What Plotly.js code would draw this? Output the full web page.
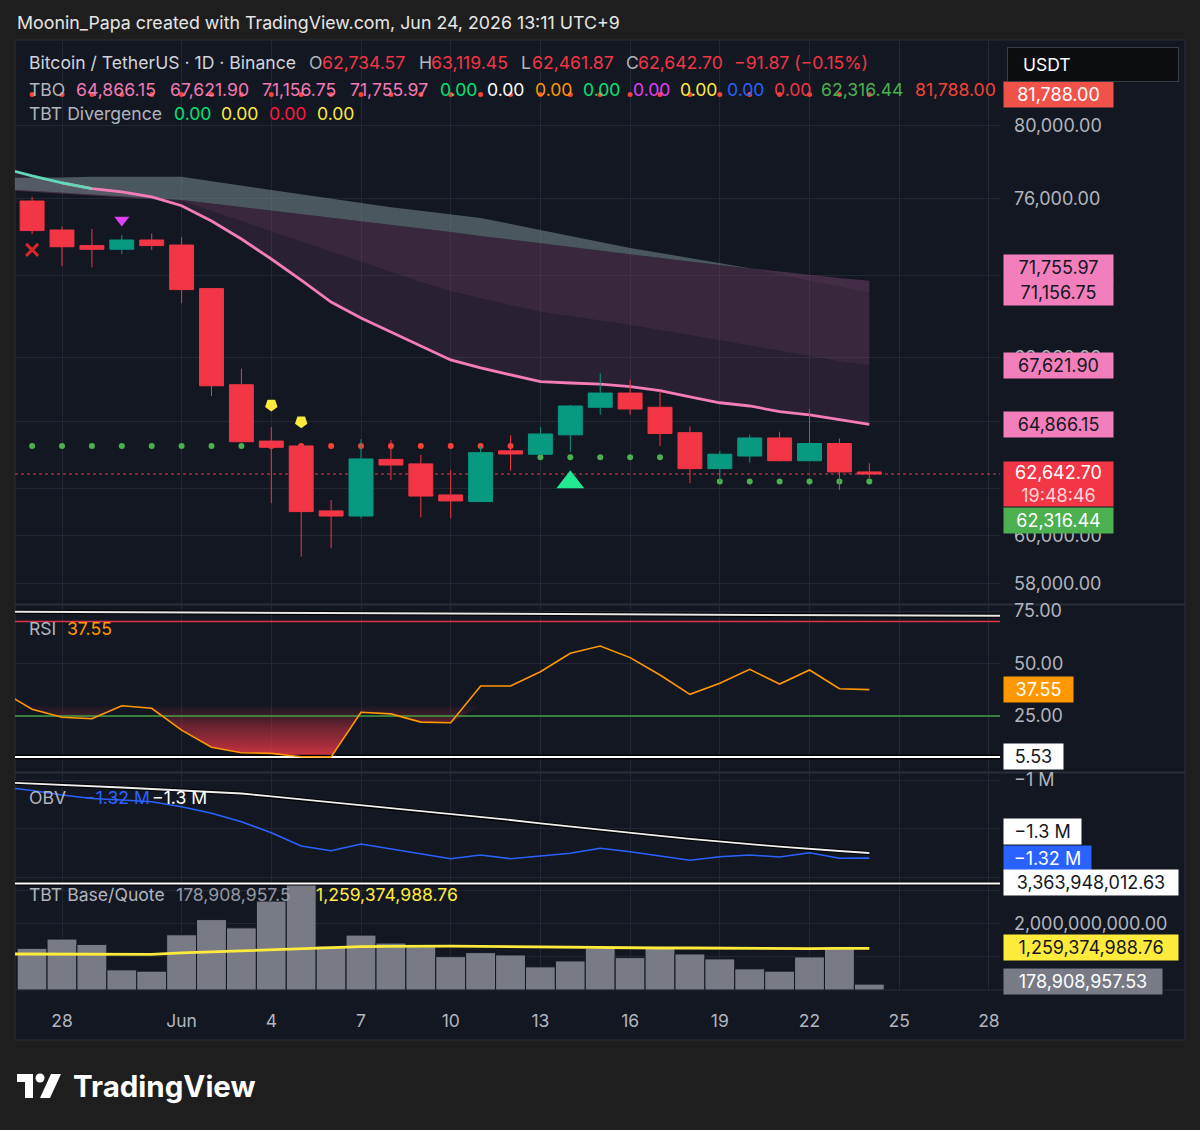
<!DOCTYPE html>
<html><head><meta charset="utf-8">
<script src="https://cdn.plot.ly/plotly-3.0.1.min.js"></script>
<style>html,body{margin:0;padding:0;background:#1e1e1e;}#chart{width:1200px;height:1130px;}</style>
</head><body><div id="chart"></div>
<script>
// ---------- DATA ----------
const dates = ['2026-05-27','2026-05-28','2026-05-29','2026-05-30','2026-05-31',
 '2026-06-01','2026-06-02','2026-06-03','2026-06-04','2026-06-05','2026-06-06','2026-06-07',
 '2026-06-08','2026-06-09','2026-06-10','2026-06-11','2026-06-12','2026-06-13','2026-06-14',
 '2026-06-15','2026-06-16','2026-06-17','2026-06-18','2026-06-19','2026-06-20','2026-06-21',
 '2026-06-22','2026-06-23','2026-06-24'];
const datesExt = ['2026-05-26'].concat(dates); // indicator series start one day earlier

const open  = [75890,74360,73550,73360,73840,73580,71360,66700,64110,63890,61040,60820,63290,63090,61730,61440,63670,63520,64390,65650,66310,65650,64490,62880,63440,64250,63230,64000,62734.57];
const high  = [76120,74540,74420,74090,74180,73980,71400,67460,64740,63990,61510,64190,64160,63490,62820,63890,64370,64740,65760,67240,66920,66410,64770,63670,64400,64530,65570,64220,63119.45];
const low   = [74150,72500,72440,73120,73320,70630,66170,64050,61370,59110,59460,60720,62380,60760,60720,61420,62790,63500,63630,65300,65300,63890,62240,62310,63140,63200,63200,61940,62461.87];
const close = [74330,73490,73360,73840,73550,71310,66650,64080,63830,61010,60820,63310,63040,61680,61470,63590,63530,64430,65710,66310,65570,64450,62880,63520,64250,63230,64000,62734.57,62642.70];

// TBO lines (May 26 .. Jun 24)
const tboFast     = [77670,77240,76860,76560,76380,76110,75640,74830,73890,72860,71790,70690,69900,69220,68540,67870,67490,67160,66840,66780,66730,66610,66420,66130,65860,65710,65450,65300,65070,64866.15];
const tboMid      = [76480,76380,76270,76160,76050,75970,75890,75360,74820,74290,73750,73250,72730,72200,71690,71230,70870,70540,70210,70000,69780,69560,69320,69070,68830,68570,68310,68060,67810,67621.90];
const tboSlow     = [76540,76430,76330,76240,76140,76040,75950,75760,75570,75390,75210,75030,74850,74660,74450,74250,74050,73860,73660,73460,73260,73070,72900,72730,72560,72380,72070,71770,71460,71156.75];
const tboSlowest  = [77130,77130,77160,77190,77190,77190,77190,76950,76710,76470,76240,76010,75780,75560,75370,75180,74990,74680,74360,74050,73740,73430,73170,72900,72640,72390,72210,72060,71900,71755.97];
const tboHigh = 81788.00;

// trailing stop dots (per candle)
const stopLevel = [63890,63890,63890,63890,63890,63890,63890,63890,
                   63890,63890,63890,63890,63890,63890,63890,63890,63890,
                   63380,63380,63380,63380,63380,null,
                   62316.44,62316.44,62316.44,62316.44,62316.44,62316.44];
const stopDir   = ['up','up','up','up','up','up','up','up',
                   'dn','dn','dn','dn','dn','dn','dn','dn','dn',
                   'up','up','up','up','up','up',
                   'up','up','up','up','up','up'];

// signal markers
const crossSig   = {date:['2026-05-27'], price:[73330]};
const sellSig    = {date:['2026-05-30'], price:[74890]};
const warnSig    = {date:['2026-06-04','2026-06-05'], price:[65760,64990]};
const buySig     = {date:['2026-06-14'], price:[62280]};

// RSI (May 26 .. Jun 24)
const rsi = [36.7,28.2,24.4,23.7,29.9,28.7,18.3,10.1,7.5,7.2,5.6,5.53,26.8,26.0,22.1,21.8,39.3,39.3,46.1,54.9,58.3,52.8,44.5,35.3,40.6,47.2,40.2,46.9,38.0,37.55];
const rsiUpper = 70, rsiLower = 25, rsiMin = 5.53, rsiMaxLine = [74.6, 72.7];

// OBV in millions (May 26 .. Jun 24)
const obvM   = [-1.0288,-1.0432,-1.0617,-1.0761,-1.0823,-1.0893,-1.1099,-1.1370,-1.1716,-1.2169,-1.2716,-1.2909,-1.2634,-1.2840,-1.3045,-1.3239,-1.3086,-1.3239,-1.3128,-1.3016,-1.2811,-1.2951,-1.3128,-1.3305,-1.3156,-1.3086,-1.3169,-1.2992,-1.3222,-1.3215];
const obvMaM = [-1.0091,-1.0140,-1.0193,-1.0247,-1.0309,-1.0370,-1.0432,-1.0486,-1.0556,-1.0675,-1.0794,-1.0914,-1.1033,-1.1152,-1.1272,-1.1391,-1.1514,-1.1646,-1.1786,-1.1922,-1.2058,-1.2181,-1.2300,-1.2420,-1.2539,-1.2638,-1.2741,-1.2840,-1.2922,-1.3004];

// Base/quote volume in billions (per candle) and its average (May 26 .. Jun 24)
const volumeB = [1.26,1.54,1.38,0.61,0.57,1.67,2.13,1.88,2.69,3.36,1.33,1.66,1.42,1.31,1.01,1.13,1.06,0.70,0.88,1.26,0.98,1.26,1.09,0.94,0.64,0.57,1.00,1.31,0.17890895753];
const volMaB  = [1.09,1.09,1.09,1.085,1.08,1.08,1.12,1.15,1.18,1.22,1.26,1.29,1.31,1.32,1.33,1.33,1.32,1.31,1.29,1.28,1.27,1.27,1.27,1.27,1.26,1.26,1.26,1.25,1.26,1.25937498876];
const volMaxLabel = 3363948012.63;

const tickDates = ['2026-05-28','2026-06-01','2026-06-04','2026-06-07','2026-06-10','2026-06-13','2026-06-16','2026-06-19','2026-06-22','2026-06-25','2026-06-28'];
const tickText  = ['28','Jun','4','7','10','13','16','19','22','25','28'];
const priceTicks = [58000,60000,62000,65000,68000,72000,76000,80000];
const priceTicksCovered = [62000,65000,72000]; // hidden behind the price labels

// ---------- HELPERS ----------
const FONT = 'Inter, "Noto Sans", sans-serif';
const X = px => (px - 15) / 985;
const Y = py => (990 - py) / 950;
const fmt = v => v.toLocaleString('en-US',{minimumFractionDigits:2,maximumFractionDigits:2});
const day = 864e5;
const t0 = Date.parse(dates[0] + 'T00:00:00Z');
const iso = ms => new Date(ms).toISOString().replace('T',' ').replace('Z','');
const xRange = [iso(t0 - 0.572*day), iso(t0 + 32.37*day)];
const last = dates.length - 1;
const lastE = datesExt.length - 1;

const RED = '#f23645', GREEN = '#089981', GRAY = '#b2b5be', PINK = '#f27fbb';
const GRID = '#232733';

const traces = [];
// TBO band fills
traces.push({type:'scatter', x:datesExt, y:tboSlow, mode:'lines', line:{width:0}, hoverinfo:'skip', xaxis:'x', yaxis:'y'});
traces.push({type:'scatter', x:datesExt, y:tboMid, mode:'lines', line:{width:0}, fill:'tonexty', fillcolor:'rgba(125,70,115,0.36)', hoverinfo:'skip'});
traces.push({type:'scatter', x:datesExt, y:tboFast, mode:'lines', line:{width:0}, fill:'tonexty', fillcolor:'rgba(125,70,115,0.22)', hoverinfo:'skip'});
const cross = 25;
traces.push({type:'scatter', x:datesExt.slice(0,cross+1), y:tboSlowest.slice(0,cross+1), mode:'lines', line:{width:0}, hoverinfo:'skip'});
traces.push({type:'scatter', x:datesExt.slice(0,cross+1), y:tboSlow.slice(0,cross+1), mode:'lines', line:{width:0}, fill:'tonexty', fillcolor:'rgba(115,135,140,0.58)', hoverinfo:'skip'});
traces.push({type:'scatter', x:datesExt.slice(cross), y:tboSlowest.slice(cross), mode:'lines', line:{width:0}, hoverinfo:'skip'});
traces.push({type:'scatter', x:datesExt.slice(cross), y:tboSlow.slice(cross), mode:'lines', line:{width:0}, fill:'tonexty', fillcolor:'rgba(140,80,125,0.40)', hoverinfo:'skip'});
// TBO fast line (teal while above, then pink)
traces.push({type:'scatter', x:datesExt.slice(2), y:tboFast.slice(2), mode:'lines', line:{color:'#f47cb8', width:2.8}, hoverinfo:'skip', zorder:1});
traces.push({type:'scatter', x:datesExt.slice(0,4), y:tboFast.slice(0,4), mode:'lines', line:{color:'#62d8b6', width:2.8}, hoverinfo:'skip', zorder:1});
// high level dots
traces.push({type:'scatter', x:dates, y:dates.map(()=>tboHigh), mode:'markers', marker:{color:'#f44336', size:5}, hoverinfo:'skip', zorder:1});
// stop dots
traces.push({type:'scatter', x:dates, y:stopLevel, mode:'markers', marker:{color:stopDir.map(d=>d==='up'?'#4caf50':'#f44336'), size:6}, hoverinfo:'skip', zorder:1});
// current price line
traces.push({type:'scatter', x:[xRange[0], xRange[1]], y:[close[last], close[last]], mode:'lines', line:{color:RED, width:1, dash:'dot'}, hoverinfo:'skip', zorder:1});
// candles
traces.push({type:'candlestick', x:dates, open, high, low, close, whiskerwidth:0,
  increasing:{line:{color:GREEN, width:1}, fillcolor:GREEN},
  decreasing:{line:{color:RED, width:1}, fillcolor:RED}, hoverinfo:'skip', zorder:2});
// signals
traces.push({type:'scatter', x:crossSig.date, y:crossSig.price, mode:'markers', marker:{symbol:'x-thin-open', size:12, line:{color:'#f5503f', width:3}}, hoverinfo:'skip', zorder:3});
traces.push({type:'scatter', x:sellSig.date, y:sellSig.price, mode:'markers', marker:{symbol:'triangle-down', size:13, color:'#e040fb'}, hoverinfo:'skip', zorder:3});
traces.push({type:'scatter', x:warnSig.date, y:warnSig.price, mode:'markers', marker:{symbol:'pentagon', angle:180, size:13, color:'#ffeb3b'}, hoverinfo:'skip', zorder:3});
traces.push({type:'scatter', x:buySig.date, y:buySig.price, mode:'markers', marker:{symbol:'triangle-up', size:24, color:'#22ea92'}, hoverinfo:'skip', zorder:3});

// RSI pane
traces.push({type:'scatter', x:datesExt, y:datesExt.map(()=>30), mode:'lines', line:{width:0}, xaxis:'x', yaxis:'y2', hoverinfo:'skip'});
traces.push({type:'scatter', x:datesExt, y:rsi.map(v=>Math.min(v,30)), mode:'lines', line:{width:0}, fill:'tonexty',
  fillgradient:{type:'vertical', start:5, stop:30, colorscale:[[0,'rgba(225,55,70,0.95)'],[0.6,'rgba(180,45,60,0.55)'],[1,'rgba(150,40,55,0.05)']]},
  xaxis:'x', yaxis:'y2', hoverinfo:'skip'});
const xEnds = [xRange[0], xRange[1]];
traces.push({type:'scatter', x:xEnds, y:rsiMaxLine, mode:'lines', line:{color:'#000', width:4}, xaxis:'x', yaxis:'y2', hoverinfo:'skip'});
traces.push({type:'scatter', x:xEnds, y:rsiMaxLine, mode:'lines', line:{color:'#e8e8e8', width:2}, xaxis:'x', yaxis:'y2', hoverinfo:'skip'});
traces.push({type:'scatter', x:xEnds, y:[rsiUpper,rsiUpper], mode:'lines', line:{color:'#e0344a', width:1.5}, xaxis:'x', yaxis:'y2', hoverinfo:'skip'});
traces.push({type:'scatter', x:xEnds, y:[rsiLower,rsiLower], mode:'lines', line:{color:'#43a047', width:1.5}, xaxis:'x', yaxis:'y2', hoverinfo:'skip'});
traces.push({type:'scatter', x:xEnds, y:[rsiMin,rsiMin], mode:'lines', line:{color:'#000', width:4.5}, xaxis:'x', yaxis:'y2', hoverinfo:'skip'});
traces.push({type:'scatter', x:xEnds, y:[rsiMin,rsiMin], mode:'lines', line:{color:'#ffffff', width:2}, xaxis:'x', yaxis:'y2', hoverinfo:'skip'});
traces.push({type:'scatter', x:datesExt, y:rsi, mode:'lines', line:{color:'#ff9800', width:1.6}, xaxis:'x', yaxis:'y2', hoverinfo:'skip'});

// OBV pane
traces.push({type:'scatter', x:datesExt, y:obvMaM.map(v=>v*1e6), mode:'lines', line:{color:'#000', width:4}, xaxis:'x', yaxis:'y3', hoverinfo:'skip'});
traces.push({type:'scatter', x:datesExt, y:obvMaM.map(v=>v*1e6), mode:'lines', line:{color:'#f0f0f0', width:1.8}, xaxis:'x', yaxis:'y3', hoverinfo:'skip'});
traces.push({type:'scatter', x:datesExt, y:obvM.map(v=>v*1e6), mode:'lines', line:{color:'#2962ff', width:1.6}, xaxis:'x', yaxis:'y3', hoverinfo:'skip'});

// Volume pane
traces.push({type:'bar', x:dates, y:volumeB.map(v=>v*1e9), marker:{color:'#787b86', line:{color:'#131722', width:1}}, xaxis:'x', yaxis:'y4', hoverinfo:'skip'});
traces.push({type:'scatter', x:datesExt, y:volMaB.map(v=>v*1e9), mode:'lines', line:{color:'#ffeb3b', width:2.8}, xaxis:'x', yaxis:'y4', hoverinfo:'skip'});

// ---------- ANNOTATIONS ----------
const ann = [];
const TS = 17.6; // legend font size
const tok = (text, xpx, ypx, color, size=TS, extra={}) => ann.push(Object.assign({xref:'paper', yref:'paper', x:X(xpx), y:Y(ypx), xanchor:'left', yanchor:'middle', text, showarrow:false, font:{family:FONT, size, color}}, extra));
const LS = 18;
const lab = (text, yref, y, bg, fg, boxW, yshift=0, pad=2) => ann.push({xref:'paper', x:X(1003), xanchor:'left', yref, y, yanchor:'middle', text, showarrow:false, bgcolor:bg, font:{family:FONT, size:LS, color:fg}, width:boxW-2*pad, align:'center', borderpad:pad, yshift});

tok('Moonin_Papa created with TradingView.com, Jun 24, 2026 13:11 UTC+9', 15, 22, '#e6e6e6', 17.8);

const chg = close[last] - close[last-1];
const pct = chg / close[last-1] * 100;
tok('Bitcoin / TetherUS · 1D · Binance', 27, 63, '#d1d4dc');
tok('O', 307, 63, GRAY); tok(fmt(open[last]), 320, 63, RED);
tok('H', 417, 63, GRAY); tok(fmt(high[last]), 429, 63, RED);
tok('L', 519, 63, GRAY); tok(fmt(low[last]), 530, 63, RED);
tok('C', 624, 63, GRAY); tok(fmt(close[last]), 636, 63, RED);
tok(fmt(chg).replace('-','−') + ' (' + pct.toFixed(2).replace('-','−') + '%)', 732, 63, RED);

tok('TBO', 27, 89, GRAY);
tok(fmt(tboFast[lastE]), 74, 89, '#f07ab5');
tok(fmt(tboMid[lastE]), 168, 89, '#f07ab5');
tok(fmt(tboSlow[lastE]), 260, 89, '#f07ab5');
tok(fmt(tboSlowest[lastE]), 348, 89, '#f07ab5');
[[438,'#00e676'],[485,'#ffffff'],[533,'#ff9800'],[581,'#00e676'],[631,'#e040fb'],[678,'#ffeb3b'],[725,'#2962ff'],[772,'#f23645']].forEach(([xp,c])=>tok('0.00', xp, 89, c));
tok(fmt(stopLevel[last]), 819, 89, '#4caf50');
tok(fmt(tboHigh), 913, 89, '#f44336');

tok('TBT Divergence', 27, 114, GRAY);
[[172,'#00e676'],[219,'#ffeb3b'],[267,'#ff1744'],[315,'#ffeb3b']].forEach(([xp,c])=>tok('0.00', xp, 114, c));

tok('RSI', 27, 628, GRAY); tok(rsi[lastE].toFixed(2), 65, 628, '#ff9800');
tok('OBV', 27, 797, GRAY); tok('−' + Math.abs(obvM[lastE]).toFixed(2) + ' M', 82, 797, '#2962ff');
tok('−' + Math.abs(obvMaM[lastE]).toFixed(1) + ' M', 150, 797, '#ffffff');
tok('TBT Base/Quote', 27, 894, GRAY); tok(fmt(volumeB[last]*1e9).slice(0,-1), 174, 894, '#9598a1');
tok(fmt(volMaB[lastE]*1e9), 314, 894, '#ffeb3b');

// price scale labels
const L = Math.log10;
lab(fmt(tboHigh), 'y', L(tboHigh), '#f0524a', '#ffffff', 109);
lab(fmt(tboSlowest[lastE]), 'y', L(tboSlowest[lastE]), PINK, '#131722', 109, 13);
lab(fmt(tboSlow[lastE]), 'y', L(tboSlow[lastE]), PINK, '#131722', 109);
lab(fmt(tboMid[lastE]), 'y', L(tboMid[lastE]), PINK, '#131722', 109);
lab(fmt(tboFast[lastE]), 'y', L(tboFast[lastE]), PINK, '#131722', 109);
lab(fmt(close[last]) + '<br><span style="color:#ffd6da">19:48:46</span>', 'y', L(close[last]), RED, '#ffffff', 109, -10, 0);
lab(fmt(stopLevel[last]), 'y', L(stopLevel[last]), '#4caf50', '#ffffff', 109, -39);
lab(rsi[lastE].toFixed(2), 'y2', rsi[lastE], '#ff9800', '#ffffff', 69);
lab(rsiMin.toFixed(2), 'y2', rsiMin, '#ffffff', '#131722', 59);
lab('−' + Math.abs(obvMaM[lastE]).toFixed(1) + ' M', 'y3', obvMaM[lastE]*1e6, '#ffffff', '#131722', 77, 21);
lab('−' + Math.abs(obvM[lastE]).toFixed(2) + ' M', 'y3', obvM[lastE]*1e6, '#2962ff', '#ffffff', 87);
ann.push({xref:'paper', yref:'paper', x:X(1003), y:Y(882), xanchor:'left', yanchor:'middle', text:fmt(volMaxLabel), showarrow:false, bgcolor:'#ffffff', font:{family:FONT,size:LS,color:'#131722'}, width:170, align:'center', borderpad:2});
lab(fmt(volMaB[lastE]*1e9), 'y4', volMaB[lastE]*1e9, '#ffeb3b', '#131722', 174, 1);
lab(fmt(volumeB[last]*1e9), 'y4', volumeB[last]*1e9, '#787b86', '#ffffff', 158, 3);
// USDT box (drawn last so it covers the top label)
ann.push({xref:'paper', yref:'paper', x:X(1007), y:Y(47), xanchor:'left', yanchor:'top', text:' ', showarrow:false, bgcolor:'#0c0d10', bordercolor:'#3a3d45', borderwidth:1, width:170, height:33, borderpad:0});
tok('USDT', 1021, 65, '#ffffff', 17.5);
// TradingView wordmark
tok('<b>TradingView</b>', 71, 1086, '#ffffff', 29.5);

// ---------- SHAPES ----------
const shapes = [];
shapes.push({type:'rect', xref:'paper', yref:'paper', x0:X(15), x1:X(1185), y0:Y(1040), y1:Y(40), fillcolor:'#131722', line:{color:'#2a2e39', width:1}, layer:'below'});
[604.5, 772.5].forEach(py => shapes.push({type:'line', xref:'paper', yref:'paper', x0:X(15), x1:X(1185), y0:Y(py), y1:Y(py), line:{color:'#2a2e39', width:2}, layer:'below'}));
shapes.push({type:'line', xref:'paper', yref:'paper', x0:X(15), x1:X(1185), y0:Y(990), y1:Y(990), line:{color:'#2a2e39', width:1}, layer:'below'});
shapes.push({type:'line', xref:'paper', yref:'paper', x0:X(15), x1:X(1000), y0:Y(883.5), y1:Y(883.5), line:{color:'#000000', width:4}});
shapes.push({type:'line', xref:'paper', yref:'paper', x0:X(15), x1:X(1000), y0:Y(883.5), y1:Y(883.5), line:{color:'#ffffff', width:2}});
// logo
const P = pts => 'M' + pts.map(([a,b]) => X(a) + ',' + Y(b)).join(' L') + ' Z';
shapes.push({type:'path', xref:'paper', yref:'paper', path:P([[17,1074],[33,1074],[33,1098],[25,1098],[25,1082],[17,1082]]), fillcolor:'#ffffff', line:{width:0}});
shapes.push({type:'circle', xref:'paper', yref:'paper', x0:X(35.5), x1:X(44.5), y0:Y(1082.5), y1:Y(1073.5), fillcolor:'#ffffff', line:{width:0}});
shapes.push({type:'path', xref:'paper', yref:'paper', path:P([[40,1098],[50,1098],[61,1074],[51,1074]]), fillcolor:'#ffffff', line:{width:0}});

// ---------- LAYOUT ----------
const tickFont = {family:FONT, size:18, color:GRAY};
const yCommon = {side:'right', anchor:'x', showgrid:true, gridcolor:GRID, zeroline:false, showline:false, ticks:'', tickfont:tickFont, ticklabelstandoff:13, fixedrange:true};
const layout = {
  width:1200, height:1130, margin:{l:15, r:200, t:40, b:140},
  paper_bgcolor:'#1e1e1e', plot_bgcolor:'rgba(0,0,0,0)',
  showlegend:false, hovermode:false, boxgap:0.2, boxgroupgap:0, bargap:0,
  xaxis:{type:'date', range:xRange, anchor:'y4', tickvals:tickDates, ticktext:tickText, showgrid:true, gridcolor:GRID, zeroline:false, showline:false, ticks:'', tickfont:Object.assign({}, tickFont, {size:17.5}), ticklabelstandoff:18, rangeslider:{visible:false}, fixedrange:true},
  yaxis:Object.assign({}, yCommon, {type:'log', domain:[Y(604), 1], range:[Math.log10(57174), Math.log10(84983)], tickvals:priceTicks, ticktext:priceTicks.map(v => priceTicksCovered.includes(v) ? '' : fmt(v))}),
  yaxis2:Object.assign({}, yCommon, {domain:[Y(772), Y(605)], range:[-1.67, 77.86], tickvals:[25,50,75], ticktext:['25.00','50.00','75.00']}),
  yaxis3:Object.assign({}, yCommon, {domain:[Y(883), Y(773)], range:[-1.4239e6, -0.9712e6], tickvals:[-1.4e6,-1.2e6,-1e6], ticktext:['','','−1 M']}),
  yaxis4:Object.assign({}, yCommon, {domain:[0, Y(884)], range:[0, (106/33.06)*1e9], tickvals:[1e9,2e9,3e9], ticktext:['',fmt(2e9),'']}),
  annotations:ann, shapes
};
Plotly.newPlot('chart', traces, layout, {staticPlot:true, displayModeBar:false});
</script></body></html>
